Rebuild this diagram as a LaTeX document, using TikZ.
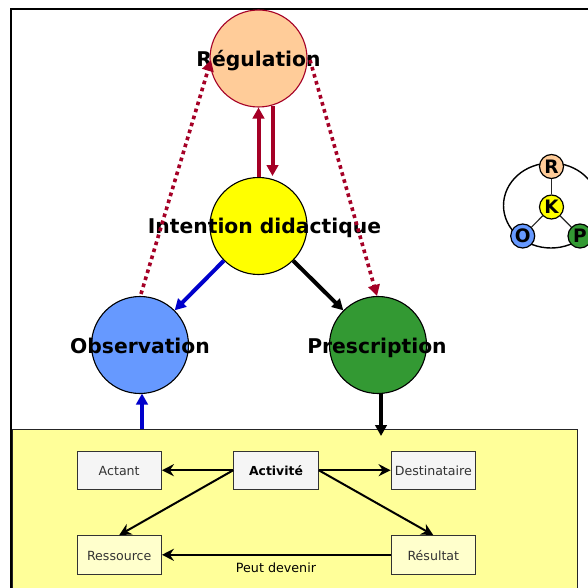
\documentclass[tikz,border=0pt]{standalone}
\usepackage{fontspec}
\setmainfont{DejaVu Sans}
\usetikzlibrary{arrows.meta,shapes.geometric}
\definecolor{crim}{HTML}{A50026}
\definecolor{panel}{HTML}{FFFF99}
\definecolor{orangeF}{HTML}{FFCC99}
\definecolor{blueF}{HTML}{6699FF}
\definecolor{greenF}{HTML}{339933}
\definecolor{blueA}{HTML}{0000CC}
\definecolor{yelF}{HTML}{FFFF00}
\definecolor{paleF}{HTML}{FFFFCC}
\definecolor{greyF}{HTML}{F5F5F5}
\tikzset{
 bigc/.style={circle,draw=black,line width=1.1pt,minimum size=97pt,inner sep=0pt},
 bigt/.style={font=\fontsize{20.3}{22}\selectfont\bfseries,text=black,text height=15pt,text depth=1pt,inner sep=0pt},
 smallc/.style={circle,draw=black,line width=1.2pt,minimum size=24pt,inner sep=0pt,font=\fontsize{18.5}{20}\selectfont\bfseries},
 boxn/.style={draw=black!80,line width=0.9pt,minimum width=84.5pt,minimum height=38.5pt,inner sep=0pt,text=black!80,text height=11pt,text depth=0pt,font=\fontsize{12.6}{14}\selectfont},
 grey/.style={boxn,fill=greyF},
 pale/.style={boxn,fill=paleF},
 thick1/.style={line width=4pt,-{Triangle[length=11pt,width=11.5pt]}},
 dots1/.style={crim,line width=3.6pt,dash pattern=on 3.6pt off 3.7pt,-{Triangle[length=11pt,width=11.5pt]}},
 thin1/.style={black,line width=2pt,-{Stealth[length=12pt,width=12pt,inset=4pt]}}
}
\begin{document}
\begin{tikzpicture}[x=1pt,y=-1pt]
\useasboundingbox (0,0) rectangle (588,588);
\begin{scope}
\clip (0,0) rectangle (588,588);
\fill[white] (0,0) rectangle (588,588);
\coordinate (ftl) at (11,9);
\coordinate (fbr) at (620,620);
\draw[black,line width=2pt] (ftl) rectangle (fbr);
\node[draw=black!85,line width=0.9pt,fill=panel,minimum width=565pt,minimum height=170pt,anchor=north west,inner sep=0pt] (pan) at (12,429) {};
\draw[black,line width=2pt] (11,429) -- (11,588);
\node[draw=black,line width=1.4pt,ellipse,minimum width=95pt,minimum height=85pt,inner sep=0pt] (ring) at (551,205.5) {};
\node[smallc,fill=orangeF] (sr) at (551.5,166.5) {R};
\node[smallc,fill=yelF] (sk) at (551.5,207) {K};
\node[smallc,fill=blueF] (so) at (522.7,236) {O};
\node[smallc,fill=greenF] (sp) at (580,236) {P};
\draw[black!85,line width=1.4pt] (sr) -- (sk);
\draw[black!85,line width=1.2pt] (sk) -- (so);
\draw[black!85,line width=1.2pt] (sk) -- (sp);
\end{scope}
% main circles
\node[bigc,draw=crim,fill=orangeF,label={[bigt,yshift=-1.5pt]center:Régulation}] (reg) at (258.5,58.5) {};
\node[bigc,fill=yelF,label={[bigt,xshift=6pt]center:Intention didactique}] (int) at (258.5,226) {};
\node[bigc,fill=blueF,label={[bigt,yshift=-1pt]center:Observation}] (obs) at (140,345) {};
\node[bigc,fill=greenF,label={[bigt,xshift=-1pt,yshift=-1pt]center:Prescription}] (pre) at (378,345) {};
% main arrows
\draw[thick1,crim] (int.north) -- (reg.south);
\coordinate (ds) at (272.5,106);
\coordinate (de) at (272.5,176);
\draw[thick1,crim] (ds) -- (de);
\draw[thick1,blueA] (int.225) -- (obs.45);
\draw[thick1,black] (int.315) -- (pre.135);
\coordinate (ps) at (141,294);
\coordinate (pe) at (211,60);
\draw[dots1] (ps) -- (pe);
\coordinate (qs) at (310,60);
\coordinate (qe) at (377,296);
\draw[dots1] (qs) -- (qe);
\coordinate (os) at (142,429);
\coordinate (oe) at (142,393.5);
\draw[thick1,blueA] (os) -- (oe);
\coordinate (rs) at (381,393.5);
\coordinate (re) at (381,436);
\draw[thick1,black] (rs) -- (re);
% inner boxes
\node[grey] (act) at (119.2,470.2) {Actant};
\node[pale] (res) at (119.2,554.8) {Ressource};
\node[grey,text=black,font=\fontsize{12.4}{14}\selectfont\bfseries] (acv) at (276,470.2) {Activité};
\node[grey] (des) at (433.3,470.2) {Destinataire};
\node[pale] (rlt) at (433.3,554.8) {Résultat};
\draw[thin1] (acv.west) -- (act.east);
\draw[thin1] (acv.west) -- (res.north);
\draw[thin1] (acv.east) -- (des.west);
\draw[thin1] (acv.east) -- (rlt.north);
\draw[thin1] (rlt.west) -- (res.east);
\node[text=black,font=\fontsize{12.7}{14}\selectfont] (lab) at (276,567.5) {Peut devenir};
\end{tikzpicture}
\end{document}
